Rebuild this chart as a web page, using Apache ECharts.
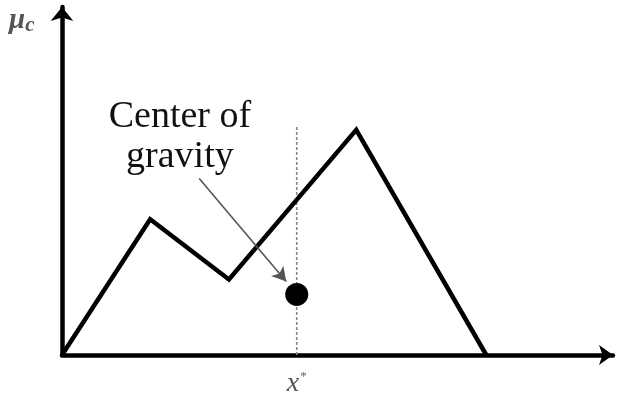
<!DOCTYPE html>
<html>
<head>
<meta charset="utf-8">
<script src="https://cdn.jsdelivr.net/npm/echarts@6/dist/echarts.min.js"></script>
<style>
  html, body { margin: 0; padding: 0; background: #fff; }
  #chart { width: 618px; height: 398px; }
</style>
</head>
<body>
<div id="chart"></div>
<script>
// Aggregated membership function (x, membership) vertices
const membershipX = [0, 16.0, 30.3, 53.4, 77.0];
const membershipY = [0, 39.0, 21.7, 64.7, 0];

// Defuzzified output x* and the centroid marker
const centroidX = 42.6;
const centroidY = 17.4;
const crispTop = 65.5;

// Annotation: label anchor and pointer arrow (start -> end)
const labelText = 'Center of\ngravity';
const labelAt = [21.4, 62.7];
const pointerFrom = [24.9, 50.7];
const pointerTo = [40.7, 21.1];

const chart = echarts.init(document.getElementById('chart'), null, { renderer: 'canvas' });

chart.setOption({
  animation: false,
  backgroundColor: '#ffffff',
  grid: { left: 62, right: 5, top: 7, bottom: 40, containLabel: false },
  xAxis: {
    type: 'value', min: 0, max: 100,
    splitLine: { show: false },
    axisLine: {
      show: true, onZero: false,
      symbol: ['none', 'arrow'], symbolSize: [15, 14],
      lineStyle: { color: '#000', width: 4.5 }
    },
    axisTick: { show: false },
    axisLabel: {
      show: true,
      customValues: [centroidX],
      margin: 15,
      formatter: () => '{i|x}{s|*}',
      rich: {
        i: { fontFamily: 'Liberation Serif', fontStyle: 'italic', fontSize: 28, color: '#555' },
        s: { fontFamily: 'Liberation Serif', fontSize: 13, color: '#666', verticalAlign: 'top', padding: [0, 0, 14, 1] }
      }
    }
  },
  yAxis: {
    type: 'value', min: 0, max: 100,
    splitLine: { show: false },
    axisLine: {
      show: true, onZero: false,
      symbol: ['none', 'arrow'], symbolSize: [17, 14],
      lineStyle: { color: '#000', width: 4.5 }
    },
    axisTick: { show: false },
    axisLabel: { show: false }
  },
  graphic: [{
    type: 'text', left: 9, top: 6,
    style: {
      text: '{m|μ}{c|c}',
      rich: {
        m: { fontFamily: 'Liberation Serif', fontStyle: 'italic', fontWeight: 'bold', fontSize: 29, fill: '#555' },
        c: { fontFamily: 'Liberation Serif', fontStyle: 'italic', fontWeight: 'bold', fontSize: 21, fill: '#555', padding: [10, 0, 0, 0] }
      }
    }
  }],
  series: [
    {
      // vertical guide at x*
      type: 'line',
      data: [[centroidX, 0], [centroidX, crispTop]],
      symbol: 'none',
      lineStyle: { color: '#888', width: 1.6, type: [3, 2] },
      z: 1
    },
    {
      // aggregated fuzzy set outline
      type: 'line',
      data: membershipX.map((x, i) => [x, membershipY[i]]),
      symbol: 'none',
      lineStyle: { color: '#000', width: 4.5, join: 'miter', cap: 'butt' },
      z: 3,
      markLine: {
        silent: true,
        symbol: ['none', 'arrow'],
        symbolSize: [12, 14],
        label: { show: false },
        lineStyle: { color: '#555', width: 1.6, type: 'solid' },
        itemStyle: { color: '#111' },
        data: [[{ coord: pointerFrom }, { coord: pointerTo }]]
      }
    },
    {
      // centroid marker
      type: 'scatter',
      data: [[centroidX, centroidY]],
      symbol: 'circle',
      symbolSize: 23,
      itemStyle: { color: '#000', opacity: 1 },
      z: 4
    },
    {
      // annotation text
      type: 'scatter',
      data: [labelAt],
      symbolSize: 0,
      silent: true,
      itemStyle: { opacity: 1 },
      label: {
        show: true, position: 'inside',
        formatter: labelText,
        fontFamily: 'Liberation Serif', fontSize: 38, lineHeight: 40,
        color: '#111', align: 'center'
      }
    }
  ]
});
</script>
</body>
</html>
